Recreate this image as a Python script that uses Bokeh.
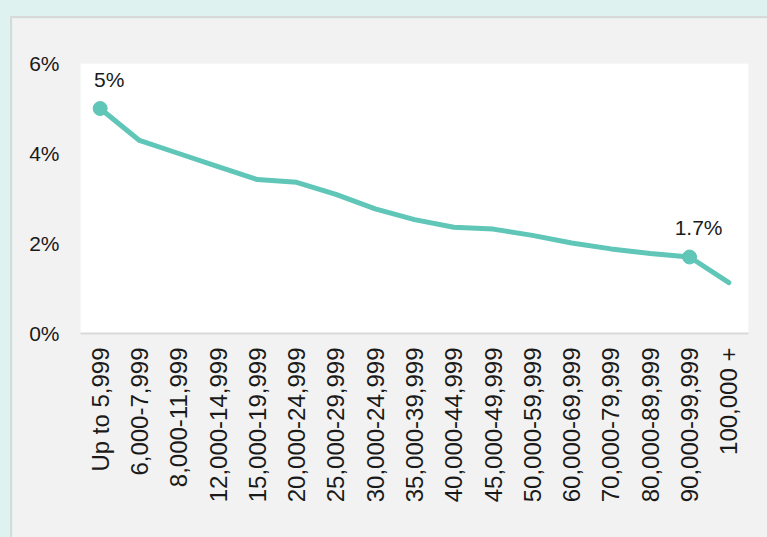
from bokeh.plotting import figure
from bokeh.models import (FactorRange, Range1d, FixedTicker, PrintfTickFormatter,
                          ColumnDataSource, GlobalInlineStyleSheet)
from bokeh.core.properties import value
from bokeh.embed import file_html
from bokeh.resources import INLINE
import math

categories = ["Up to 5,999", "6,000-7,999", "8,000-11,999", "12,000-14,999",
              "15,000-19,999", "20,000-24,999", "25,000-29,999", "30,000-24,999",
              "35,000-39,999", "40,000-44,999", "45,000-49,999", "50,000-59,999",
              "60,000-69,999", "70,000-79,999", "80,000-89,999", "90,000-99,999",
              "100,000 +"]
rates = [5.0, 4.29, 4.0, 3.71, 3.42, 3.36, 3.09, 2.77, 2.53, 2.36, 2.32, 2.18,
         2.01, 1.88, 1.78, 1.70, 1.13]
labelled = ["Up to 5,999", "90,000-99,999"]
label_texts = ["5%", "1.7%"]
y_ticks = [0, 2, 4, 6]

FONT = "Liberation Sans"
TEAL = "#5fc6b8"

p = figure(x_range=FactorRange(*categories), y_range=Range1d(0, 6),
           width=755, height=519, output_backend="svg", toolbar_location=None,
           min_border_left=68, min_border_right=19, min_border_top=45,
           min_border_bottom=204)
p.border_fill_color = "#f2f2f2"
p.background_fill_color = "white"
p.outline_line_color = None
p.xgrid.visible = False
p.ygrid.visible = False

p.line(categories, rates, line_color=TEAL, line_width=5, line_join="round",
       line_cap="round")
lab_vals = [rates[categories.index(c)] for c in labelled]
src = ColumnDataSource(dict(x=labelled, y=lab_vals, t=label_texts))
p.scatter("x", "y", source=src, size=14, fill_color=TEAL, line_color=TEAL)
p.text("x", "y", text="t", source=src, x_offset=9, y_offset=-18,
       text_align="center", text_baseline="bottom",
       text_font=value(FONT), text_font_size="21px", text_color="#1a1a1a")

ya = p.yaxis[0]
ya.ticker = FixedTicker(ticks=y_ticks)
ya.formatter = PrintfTickFormatter(format="%d%%")
ya.axis_line_color = None
ya.major_tick_line_color = None
ya.minor_tick_line_color = None
ya.major_tick_out = 0
ya.minor_tick_out = 0
ya.major_label_standoff = 21
ya.major_label_text_font = FONT
ya.major_label_text_font_size = "21px"
ya.major_label_text_color = "#1a1a1a"

xa = p.xaxis[0]
xa.axis_line_color = "#d9d9d9"
xa.axis_line_width = 2
xa.major_tick_line_color = None
xa.minor_tick_line_color = None
xa.major_tick_out = 0
xa.major_label_standoff = 14
xa.major_label_orientation = math.pi / 2
xa.major_label_text_font = FONT
xa.major_label_text_font_size = "24px"
xa.major_label_text_color = "#1a1a1a"

p.stylesheets = [GlobalInlineStyleSheet(
    css="html, body { background-color: #def2ef; overflow: hidden; } "
        "body { margin: 16px 0 0 10px; border-top: 2px solid #d9d9d9; "
        "border-left: 2px solid #d9d9d9; }")]

open("out.html", "w").write(file_html(p, INLINE))
